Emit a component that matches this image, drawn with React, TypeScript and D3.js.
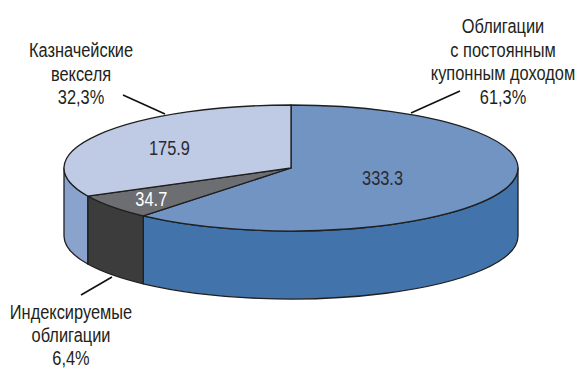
import React from "react";
import * as d3 from "d3";

// Structure of Treasury securities in circulation
const categories = ["Облигации с постоянным купонным доходом", "Индексируемые облигации", "Казначейские векселя"];
const values = [333.3, 34.7, 175.9];
const valueLabels = ["333.3", "34.7", "175.9"];
const captionLines = [
  ["Облигации", "с постоянным", "купонным доходом"],
  ["Индексируемые", "облигации"],
  ["Казначейские", "векселя"],
];

const topColors = ["#7194c3", "#6d6e71", "#bfcbe4"];
const sideColors = ["#4373ab", "#3c3c3c", "#8aa3cd"];

const W = 578;
const H = 369;
const cx = 291;
const cy = 168;
const rx = 227;
const ry = 63;
const depth = 68;

const FONT = "'Liberation Sans', Arial, Helvetica, sans-serif";
const SX = 0.78; // horizontal condensing of the typeface

// radial position (fraction of radius) of the value text on each slice
const labelRadius = [0.43, 0.78, 0.63];

// caption blocks: centre x, first baseline, line step
const captionLayout = [
  { x: 503, y: 33, step: 23.5 },
  { x: 71, y: 319, step: 23 },
  { x: 81, y: 57, step: 23.5 },
];

// leader lines from captions to the pie
const leaders = [
  [[460, 91], [411, 113]],
  [[81, 295], [112, 277]],
  [[123, 95], [165, 114]],
];

const px = (a: number, k = 1) => cx + rx * k * Math.sin(a);
const py = (a: number, k = 1) => cy - ry * k * Math.cos(a);

function topPath(a0: number, a1: number) {
  const large = a1 - a0 > Math.PI ? 1 : 0;
  return `M${cx},${cy}L${px(a0)},${py(a0)}A${rx},${ry} 0 ${large} 1 ${px(a1)},${py(a1)}Z`;
}

function sidePath(a0: number, a1: number) {
  const s = Math.max(a0, Math.PI / 2);
  const e = Math.min(a1, (3 * Math.PI) / 2);
  if (e <= s) return null;
  const large = e - s > Math.PI ? 1 : 0;
  return (
    `M${px(s)},${py(s)}A${rx},${ry} 0 ${large} 1 ${px(e)},${py(e)}` +
    `L${px(e)},${py(e) + depth}A${rx},${ry} 0 ${large} 0 ${px(s)},${py(s) + depth}Z`
  );
}

function Condensed({ x, y, text, size = 21, fill = "#231f20" }: { x: number; y: number; text: string; size?: number; fill?: string }) {
  return (
    <text
      transform={`translate(${x},${y}) scale(${SX},1)`}
      textAnchor="middle"
      fontFamily={FONT}
      fontSize={size}
      fill={fill}
    >
      {text}
    </text>
  );
}

export default function App() {
  const pie = d3
    .pie<number>()
    .sort(null)
    .value((d) => d)
    .startAngle(0)
    .endAngle(2 * Math.PI);
  const arcs = pie(values);
  const total = d3.sum(values);
  const pct = (v: number) => d3.format(".1f")((v / total) * 100).replace(".", ",") + "%";
  const stroke = "#1f1f1f";
  const sw = 1.3;

  return (
    <svg width={W} height={H} style={{ position: "absolute", left: 0, top: 0, background: "#fff" }}>
      {arcs.map((a, i) => {
        const d = sidePath(a.startAngle, a.endAngle);
        return d ? <path key={"s" + i} d={d} fill={sideColors[i]} stroke={stroke} strokeWidth={sw} strokeLinejoin="round" /> : null;
      })}
      {arcs.map((a, i) => (
        <path key={"t" + i} d={topPath(a.startAngle, a.endAngle)} fill={topColors[i]} stroke={stroke} strokeWidth={sw} strokeLinejoin="round" />
      ))}
      {arcs.map((a, i) => {
        const mid = (a.startAngle + a.endAngle) / 2;
        return (
          <Condensed
            key={"v" + i}
            x={px(mid, labelRadius[i])}
            y={py(mid, labelRadius[i]) + 7.5}
            text={valueLabels[i]}
            fill={i === 1 ? "#ffffff" : "#2a2a30"}
          />
        );
      })}
      {leaders.map((l, i) => (
        <line key={"l" + i} x1={l[0][0]} y1={l[0][1]} x2={l[1][0]} y2={l[1][1]} stroke="#111" strokeWidth={1.6} />
      ))}
      {captionLines.map((lines, i) => {
        const c = captionLayout[i];
        const all = [...lines, pct(values[i])];
        return (
          <g key={"c" + i}>
            {all.map((t, j) => (
              <Condensed key={j} x={c.x} y={c.y + j * c.step} text={t} />
            ))}
          </g>
        );
      })}
    </svg>
  );
}
